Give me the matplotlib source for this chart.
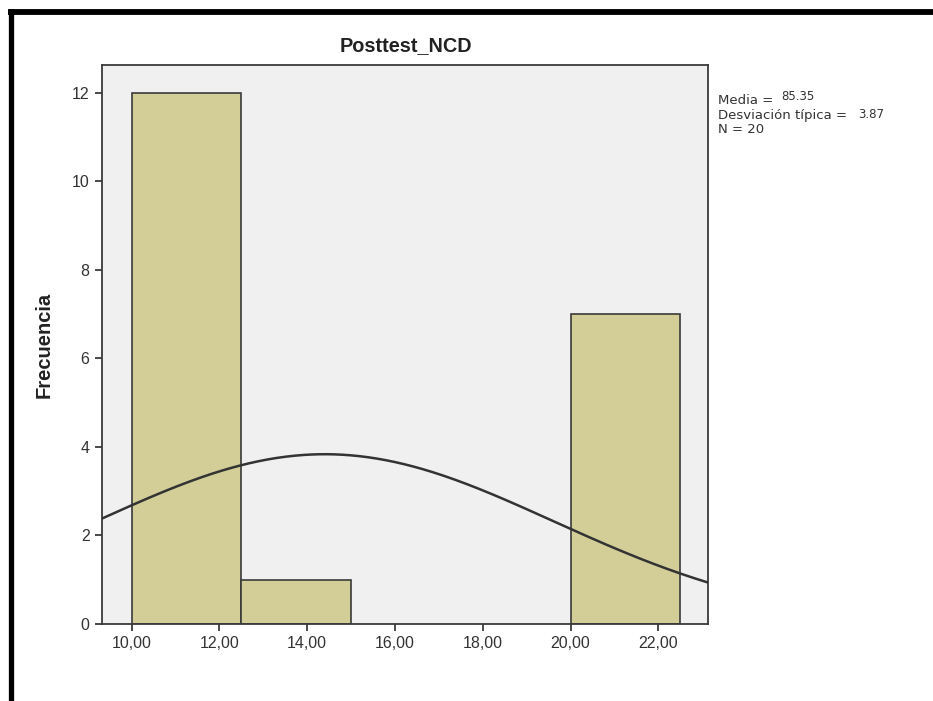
import numpy as np
import matplotlib
matplotlib.use("Agg")
import matplotlib.pyplot as plt
from matplotlib.lines import Line2D

# ---- data ----
bin_edges = [10.0, 12.5, 15.0, 17.5, 20.0, 22.5]
counts = [12, 1, 0, 0, 7]
curve_mean = 14.4
curve_sd = 5.2
n_total = 20
x_ticks = [10, 12, 14, 16, 18, 20, 22]
x_tick_labels = ["10,00", "12,00", "14,00", "16,00", "18,00", "20,00", "22,00"]
y_ticks = [0, 2, 4, 6, 8, 10, 12]
title_text = "Posttest_NCD"
ylabel_text = "Frecuencia"
stat_mean = "85.35"
stat_sd = "3.87"

plt.rcParams['font.family'] = ['Liberation Sans', 'DejaVu Sans']

W, H = 933, 701
fig = plt.figure(figsize=(W / 100, H / 100), dpi=100)
fig.patch.set_facecolor('white')

def fx(px):
    return px / W

def fy(py):
    return 1 - py / H

ax = fig.add_axes([fx(102), fy(624), fx(708) - fx(102), fy(65) - fy(624)])
ax.set_facecolor('#F0F0F0')

lefts = bin_edges[:-1]
widths = np.diff(bin_edges)
for l, w, c in zip(lefts, widths, counts):
    if c > 0:
        ax.bar(l, c, width=w, align='edge', color='#D3CE98',
               edgecolor='#3a3a3a', linewidth=1.2, zorder=2)

xlim = (9.325, 23.13)
xs = np.linspace(xlim[0], xlim[1], 400)
bw = widths[0]
ys = n_total * bw / (curve_sd * np.sqrt(2 * np.pi)) * np.exp(-0.5 * ((xs - curve_mean) / curve_sd) ** 2)
ax.plot(xs, ys, color='#333333', linewidth=1.8, zorder=3)

ax.set_xlim(*xlim)
ax.set_ylim(0, 12.63)
ax.set_xticks(x_ticks)
ax.set_xticklabels(x_tick_labels)
ax.set_yticks(y_ticks)
ax.set_yticklabels([str(v) for v in y_ticks])

for s in ax.spines.values():
    s.set_color('#3a3a3a')
    s.set_linewidth(1.3)

ax.tick_params(axis='both', direction='out', length=5, width=1.3, color='#3a3a3a',
               labelsize=11.5, labelcolor='#333333', pad=4)

fig.text(fx(406), fy(46), title_text, ha='center', va='center',
         fontsize=14.3, fontweight='bold', color='#222222')
fig.text(fx(44), fy(345), ylabel_text, ha='center', va='center', rotation=90,
         fontsize=14.5, fontweight='bold', color='#222222')

# stats text
stat_font = ['DejaVu Sans']
fig.text(fx(718), fy(104), "Media = ", ha='left', va='baseline', fontsize=9.5,
         color='#333333', family=stat_font)
fig.text(fx(781), fy(100.5), stat_mean, ha='left', va='baseline', fontsize=8.5,
         color='#333333', family=stat_font)
fig.text(fx(718), fy(118.5), "Desviación típica = ", ha='left', va='baseline', fontsize=9.5,
         color='#333333', family=stat_font)
fig.text(fx(858), fy(117.5), stat_sd, ha='left', va='baseline', fontsize=8.5,
         color='#333333', family=stat_font)
fig.text(fx(718), fy(133), "N = " + str(n_total), ha='left', va='baseline', fontsize=9.5,
         color='#333333', family=stat_font)

# outer black frame (top and left)
fig.add_artist(Line2D([fx(8), fx(933)], [fy(11.5), fy(11.5)], color='black', linewidth=4.2,
                      transform=fig.transFigure, solid_capstyle='butt'))
fig.add_artist(Line2D([fx(10.5), fx(10.5)], [fy(9), fy(701)], color='black', linewidth=3.8,
                      transform=fig.transFigure, solid_capstyle='butt'))

fig.savefig('out.png', dpi=100, facecolor='white')
